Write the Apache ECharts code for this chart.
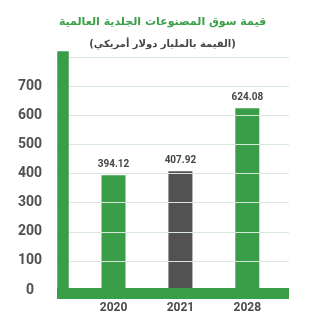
<!DOCTYPE html>
<html>
<head>
<meta charset="utf-8">
<script src="https://cdn.jsdelivr.net/npm/echarts@6/dist/echarts.min.js"></script>
<style>
  html, body { margin: 0; padding: 0; background: #ffffff; }
  #chart { width: 325px; height: 325px; }
</style>
</head>
<body>
<div id="chart"></div>
<script>
// Global leather goods market size, billions of US dollars
const years = ['2020', '2021', '2028'];
const values = [394.12, 407.92, 624.08];
const barColors = ['#3a9e48', '#525252', '#3a9e48'];
const yTicks = [0, 100, 200, 300, 400, 500, 600, 700, 800];

const titleText = 'قيمة سوق المصنوعات الجلدية العالمية';
const subtitleText = '(القيمة بالمليار دولار أمريكي)';

const green = '#3a9e48';
const gridColor = '#d8e7dd';

const chart = echarts.init(document.getElementById('chart'), null, { renderer: 'canvas' });

chart.setOption({
  backgroundColor: '#ffffff',
  animation: false,
  title: [
    {
      text: titleText,
      left: 'center',
      top: 12,
      textStyle: { color: '#3aa047', fontFamily: 'DejaVu Sans', fontWeight: 'bold', fontSize: 11 }
    },
    {
      text: subtitleText,
      left: 'center',
      top: 34,
      textStyle: { color: '#454545', fontFamily: 'DejaVu Sans', fontWeight: 'bold', fontSize: 10 }
    }
  ],
  grid: { left: 57, right: 36, top: 57, bottom: 35, containLabel: false },
  xAxis: {
    type: 'value',
    min: -0.845,
    max: 2.623,
    offset: 3,
    z: 10,
    splitLine: { show: false },
    axisTick: { show: false },
    axisLine: { show: true, onZero: false, lineStyle: { color: green, width: 11, cap: 'butt' } },
    axisLabel: {
      margin: 9,
      color: '#4a4a4a',
      fontFamily: 'Roboto',
      fontWeight: 'bold',
      fontSize: 12,
      showMinLabel: false,
      showMaxLabel: false,
      formatter: function (v) {
        return Number.isInteger(v) && years[v] !== undefined ? years[v] : '';
      }
    }
  },
  yAxis: {
    type: 'value',
    min: yTicks[0],
    max: yTicks[yTicks.length - 1],
    interval: 100,
    offset: -6,
    z: 10,
    axisTick: { show: false },
    axisLine: { show: true, onZero: false, lineStyle: { color: green, width: 11.5, cap: 'square' } },
    splitLine: { show: true, lineStyle: { type: 'solid', color: gridColor, width: 1 } },
    axisLabel: {
      margin: 33,
      align: 'center',
      padding: [6, 0, 0, 0],
      color: '#505050',
      fontFamily: 'Roboto',
      fontWeight: 'bold',
      fontSize: 14,
      showMaxLabel: false,
      formatter: function (v) {
        return v === yTicks[yTicks.length - 1] ? '' : String(v);
      }
    }
  },
  series: [
    {
      type: 'bar',
      barWidth: 24,
      z: 2,
      data: values.map(function (v, i) {
        return { value: [i, v], itemStyle: { color: barColors[i] } };
      }),
      label: {
        show: true,
        position: 'top',
        distance: 6,
        color: '#454545',
        fontFamily: 'Roboto',
        fontWeight: 'bold',
        fontSize: 10,
        formatter: function (p) { return values[p.dataIndex].toFixed(2); }
      }
    }
  ]
});
</script>
</body>
</html>
